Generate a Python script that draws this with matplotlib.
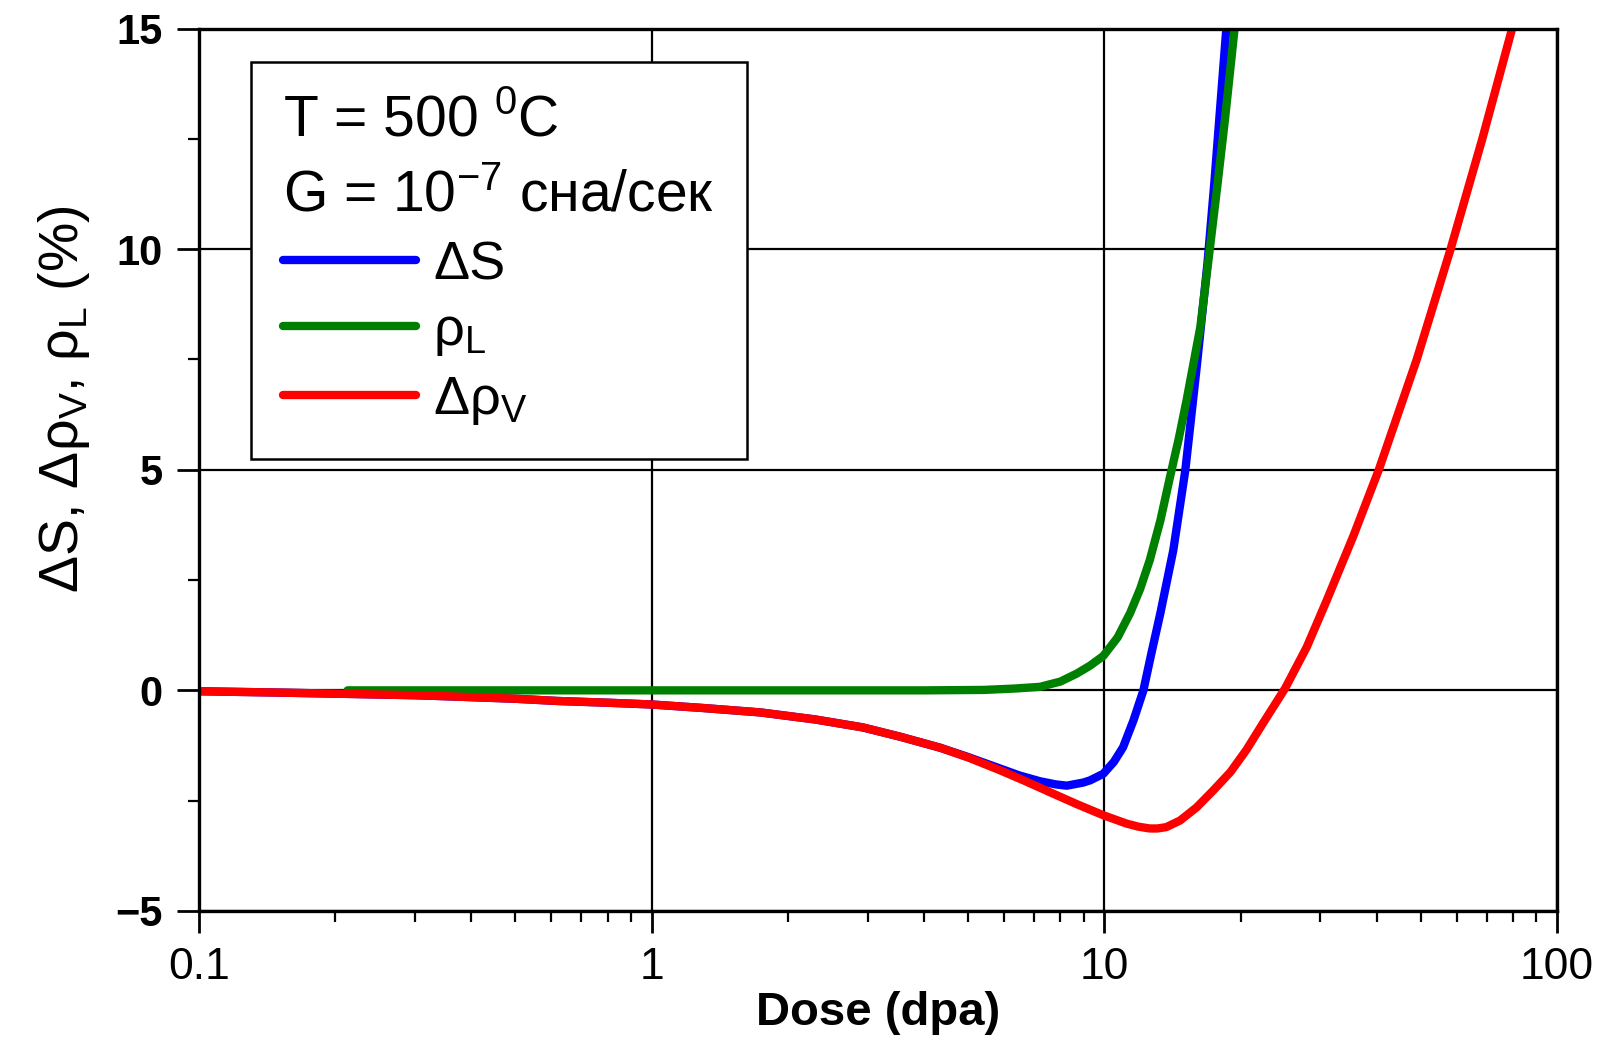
import numpy as np
import matplotlib.pyplot as plt
from matplotlib.ticker import FixedLocator, NullFormatter

plt.rcParams['font.family'] = ['Liberation Sans', 'DejaVu Sans']
plt.rcParams['mathtext.fontset'] = 'custom'
plt.rcParams['mathtext.rm'] = 'Liberation Sans'

# red: delta rho_V
dose_v = [0.1, 0.15, 0.213, 0.3, 0.367, 0.5, 0.618, 0.8, 1.0, 1.3, 1.74, 2.3, 2.93,
          3.54, 4.34, 5.0, 5.88, 6.7, 7.59, 8.7, 9.95, 11.2, 11.9, 12.6, 13.1, 13.7,
          14.7, 16.0, 17.4, 19.0, 20.6, 22.4, 25.1, 28.0, 31.0, 35.5, 40.4, 49.0, 58.2,
          68.4, 79.6]
rho_v = [-0.02, -0.05, -0.08, -0.11, -0.14, -0.19, -0.24, -0.28, -0.32, -0.40, -0.50,
         -0.66, -0.84, -1.05, -1.30, -1.52, -1.81, -2.06, -2.31, -2.58, -2.83, -3.02,
         -3.09, -3.13, -3.13, -3.10, -2.95, -2.65, -2.27, -1.85, -1.35, -0.75, 0.05, 0.98,
         2.04, 3.5, 5.0, 7.5, 10.0, 12.5, 15.0]

# blue: delta S
dose_s = [0.1, 0.15, 0.213, 0.3, 0.367, 0.5, 0.618, 0.8, 1.0, 1.3, 1.74, 2.3, 2.93,
          3.54, 4.34, 5.0, 5.88, 6.5, 7.21, 7.8, 8.26, 8.98, 9.3, 9.95, 10.5, 11.0,
          11.6, 12.2, 12.7, 13.3, 14.2, 15.1, 16.0, 16.9, 17.5, 18.6]
delta_s = [-0.02, -0.05, -0.08, -0.11, -0.14, -0.19, -0.24, -0.28, -0.32, -0.40, -0.50,
           -0.66, -0.84, -1.05, -1.30, -1.51, -1.77, -1.93, -2.06, -2.13, -2.16, -2.09,
           -2.04, -1.89, -1.62, -1.29, -0.68, 0.0, 0.83, 1.75, 3.17, 4.99, 7.33, 9.68,
           11.5, 15.0]

# green: rho_L
dose_l = [0.213, 0.5, 1.0, 2.0, 4.0, 5.41, 6.3, 7.21, 8.0, 8.69, 9.3, 9.95, 10.7, 11.4,
          12.0, 12.6, 13.3, 13.97, 14.6, 15.2, 16.3, 17.1, 17.8, 18.5, 19.4]
rho_l = [0.0, 0.0, 0.0, 0.0, 0.0, 0.01, 0.04, 0.08, 0.2, 0.38, 0.56, 0.78, 1.2, 1.75,
         2.3, 2.95, 3.85, 4.84, 5.7, 6.58, 8.24, 10.0, 11.5, 13.0, 15.0]

fig = plt.figure(figsize=(16.03, 10.41), dpi=100)
ax = fig.add_axes([0.1241, 0.1249, 0.8472, 0.8477])

ax.plot(dose_s, delta_s, color='#0000ff', lw=6, label='ΔS', solid_capstyle='round')
ax.plot(dose_l, rho_l, color='#008000', lw=6, label='ρ$_\\mathregular{L}$', solid_capstyle='round')
ax.plot(dose_v, rho_v, color='#ff0000', lw=6, label='Δρ$_\\mathregular{V}$', solid_capstyle='round')

ax.set_xscale('log')
ax.set_xlim(0.1, 100)
ax.set_ylim(-5, 15)

ax.set_xticks([0.1, 1, 10, 100], labels=['0.1', '1', '10', '100'])
ax.xaxis.set_minor_formatter(NullFormatter())
ax.set_yticks([-5, 0, 5, 10, 15])
ax.yaxis.set_minor_locator(FixedLocator([-2.5, 2.5, 7.5, 12.5]))

ax.grid(True, which='major', color='black', lw=1.6)
for s in ax.spines.values():
    s.set_linewidth(2.4)

ax.tick_params(which='major', direction='out', length=16, width=2, pad=10)
ax.tick_params(which='minor', direction='out', length=8, width=1.6)
ax.tick_params(axis='x', which='major', labelsize=32)
ax.tick_params(axis='y', which='major', labelsize=30)
for lb in ax.get_yticklabels():
    lb.set_fontweight('bold')

ax.set_xlabel('Dose (dpa)', fontsize=34, fontweight='bold', labelpad=2)
ax.set_ylabel('ΔS, Δρ$_\\mathregular{V}$, ρ$_\\mathregular{L}$ (%)', fontsize=40)
ax.yaxis.set_label_coords(-0.079, 0.58)

leg = ax.legend(title='T = 500 $^\\mathregular{0}$C\nG = 10$^{\\mathregular{-7}}$ сна/сек',
                loc='upper left', bbox_to_anchor=(0.038, 0.962), borderaxespad=0,
                fontsize=39, title_fontsize=41, alignment='left', fancybox=False,
                edgecolor='black', framealpha=1, handlelength=2.45, handletextpad=0.32,
                labelspacing=0.3, borderpad=0.6)
leg.get_frame().set_linewidth(1.8)
leg.get_title().set_linespacing(1.5)

fig.savefig('out.png', dpi=100)
